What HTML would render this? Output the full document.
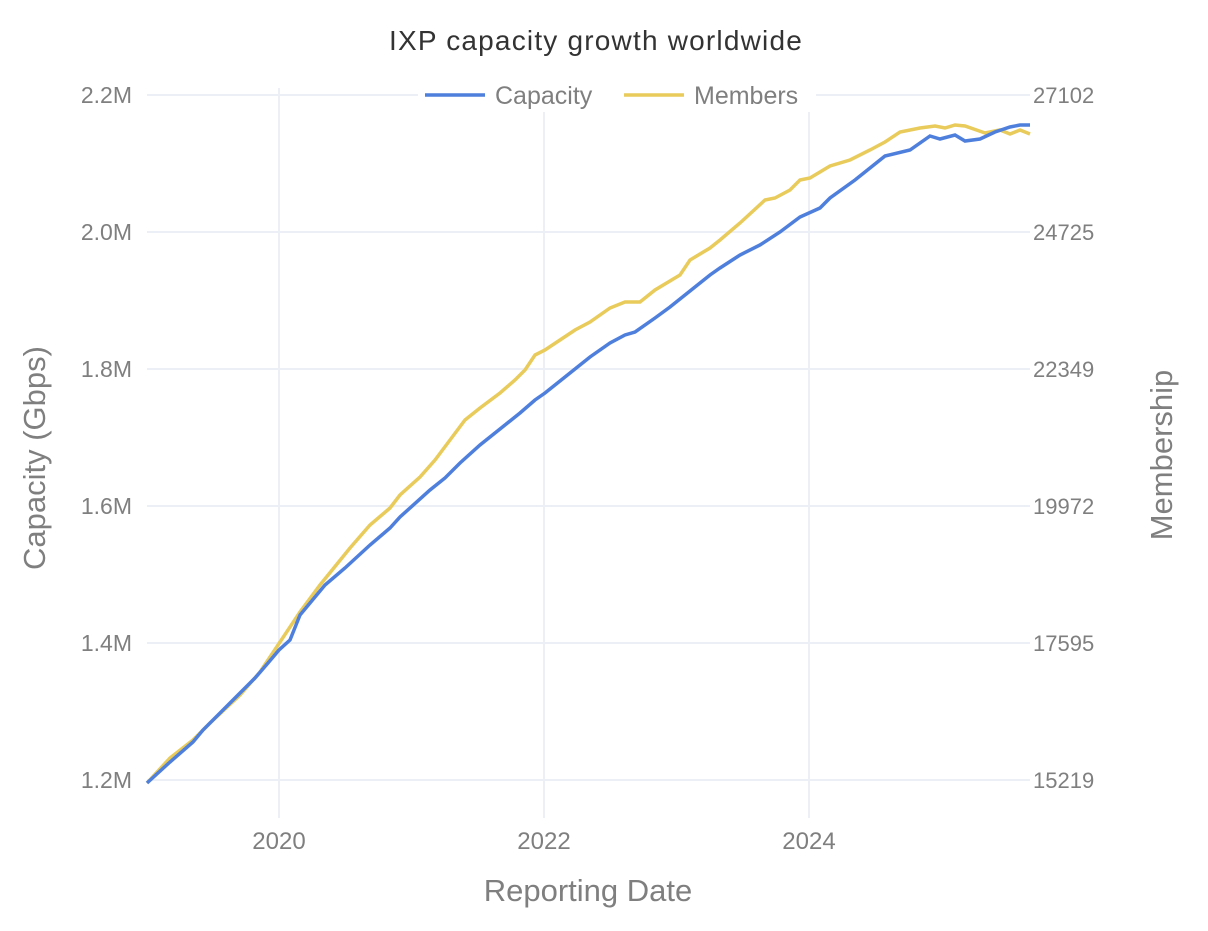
<!DOCTYPE html>
<html><head><meta charset="utf-8"><style>
body{margin:0;background:#fff;}
svg text{font-family:"Liberation Sans",sans-serif;fill:#7f7f7f;}
</style></head><body>
<svg width="1208" height="926" viewBox="0 0 1208 926">
<g stroke="#eceff6" stroke-width="2">
<line x1="147" y1="95" x2="1030" y2="95"/><line x1="147" y1="232" x2="1030" y2="232"/>
<line x1="147" y1="369" x2="1030" y2="369"/><line x1="147" y1="506" x2="1030" y2="506"/>
<line x1="147" y1="643" x2="1030" y2="643"/><line x1="147" y1="780" x2="1030" y2="780"/>
<line x1="279" y1="88" x2="279" y2="818"/><line x1="544" y1="88" x2="544" y2="818"/><line x1="809" y1="88" x2="809" y2="818"/>
</g>
<text x="596" y="50" text-anchor="middle" font-size="28" letter-spacing="1.2" style="fill:#333">IXP capacity growth worldwide</text>
<g font-size="23" text-anchor="end">
<text x="132" y="103">2.2M</text><text x="132" y="240">2.0M</text><text x="132" y="377">1.8M</text>
<text x="132" y="514">1.6M</text><text x="132" y="651">1.4M</text><text x="132" y="788">1.2M</text>
</g>
<g font-size="22">
<text x="1033" y="103">27102</text><text x="1033" y="240">24725</text><text x="1033" y="377">22349</text>
<text x="1033" y="514">19972</text><text x="1033" y="651">17595</text><text x="1033" y="788">15219</text>
</g>
<g font-size="24" text-anchor="middle">
<text x="279" y="849">2020</text><text x="544" y="849">2022</text><text x="809" y="849">2024</text>
</g>
<text x="588" y="901" text-anchor="middle" font-size="31">Reporting Date</text>
<text transform="translate(45,458) rotate(-90)" text-anchor="middle" font-size="31">Capacity (Gbps)</text>
<text transform="translate(1172,455) rotate(-90)" text-anchor="middle" font-size="31">Membership</text>
<polyline fill="none" stroke="#e8cb5a" stroke-width="3.5" points="147,783 170,758 193,740 210,723 240,695 260,672 280,642 300,612 320,585 350,548 370,525 390,508 400,495 420,477 435,460 450,440 465,420 480,408 500,393 515,380 525,370 535,355 545,350 560,340 575,330 590,322 610,308 625,302 640,302 655,290 680,275 690,260 710,248 720,240 740,223 765,200 775,198 790,190 800,180 810,178 830,166 850,160 870,150 885,142 900,132 920,128 935,126 945,128 955,125 965,126 985,133 1000,130 1010,134 1020,130 1030,134"/>
<polyline fill="none" stroke="#4f7fdc" stroke-width="3.5" points="147,783 170,762 193,742 203,730 230,703 255,678 268,663 279,650 290,640 300,615 325,585 345,568 370,545 390,528 400,517 430,490 445,478 460,463 480,445 505,425 520,413 535,400 545,393 570,373 590,357 610,343 625,335 635,332 655,318 670,307 695,287 710,275 720,268 740,255 760,245 780,232 800,217 820,208 830,198 855,180 885,156 910,150 930,136 940,139 955,135 965,141 980,139 995,132 1010,127 1020,125 1030,125"/>
<rect x="418" y="80" width="398" height="32" fill="#fff"/>
<line x1="425" y1="95" x2="485" y2="95" stroke="#4f7fdc" stroke-width="3.5"/>
<text x="495" y="104" font-size="25">Capacity</text>
<line x1="624" y1="95" x2="684" y2="95" stroke="#e8cb5a" stroke-width="3.5"/>
<text x="694" y="104" font-size="25">Members</text>
</svg>
</body></html>
